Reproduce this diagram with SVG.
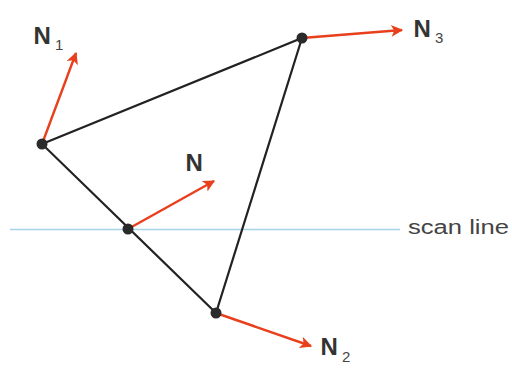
<svg xmlns="http://www.w3.org/2000/svg" width="512" height="381" viewBox="0 0 512 381">
<style>
.edge{stroke:#222;stroke-width:2.2;fill:none}
.nrm{stroke:#e8401c;stroke-width:2.4;fill:none}
.dot{fill:#2a2a2a}
.lbl{font-family:"Liberation Sans",Arial,sans-serif;font-weight:bold;font-size:24px;fill:#333}
.sub{font-family:"Liberation Sans",Arial,sans-serif;font-size:15px;fill:#444}
.scan{font-family:"Liberation Sans",Arial,sans-serif;font-size:20px;fill:#444}
</style>
<defs>
<marker id="ah" viewBox="0 0 10 10" refX="9" refY="5" markerWidth="6" markerHeight="5" orient="auto" markerUnits="strokeWidth">
<path d="M0,0 L10,5 L0,10 L2.5,5 Z" fill="#e8401c"/>
</marker>
</defs>
<rect width="512" height="381" fill="#fff"/>
<line x1="10" y1="229.5" x2="400" y2="229.5" stroke="#a9d3e6" stroke-width="1.6"/>
<g id="connectors">
<path class="edge" d="M42,144 L302,38 L216,313 Z"/>
<line class="nrm" x1="42" y1="144" x2="76" y2="53" marker-end="url(#ah)"/>
<line class="nrm" x1="302" y1="38" x2="402" y2="30" marker-end="url(#ah)"/>
<line class="nrm" x1="216" y1="313" x2="311" y2="346" marker-end="url(#ah)"/>
<line class="nrm" x1="128" y1="229" x2="214" y2="181" marker-end="url(#ah)"/>
</g>
<g id="v1"><circle class="dot" cx="42" cy="144" r="5.5"/><text class="lbl" x="33.5" y="44">N</text><text class="sub" x="55" y="50">1</text></g>
<g id="v3"><circle class="dot" cx="302" cy="38" r="5.5"/><text class="lbl" x="413.5" y="37">N</text><text class="sub" x="435" y="43">3</text></g>
<g id="v2"><circle class="dot" cx="216" cy="313" r="5.5"/><text class="lbl" x="320.5" y="355">N</text><text class="sub" x="342" y="362">2</text></g>
<g id="mid"><circle class="dot" cx="128" cy="229" r="5.5"/><text class="lbl" x="185.5" y="171">N</text></g>
<g id="scanline"><text class="scan" x="408" y="234" textLength="101" lengthAdjust="spacingAndGlyphs">scan line</text></g>
</svg>
